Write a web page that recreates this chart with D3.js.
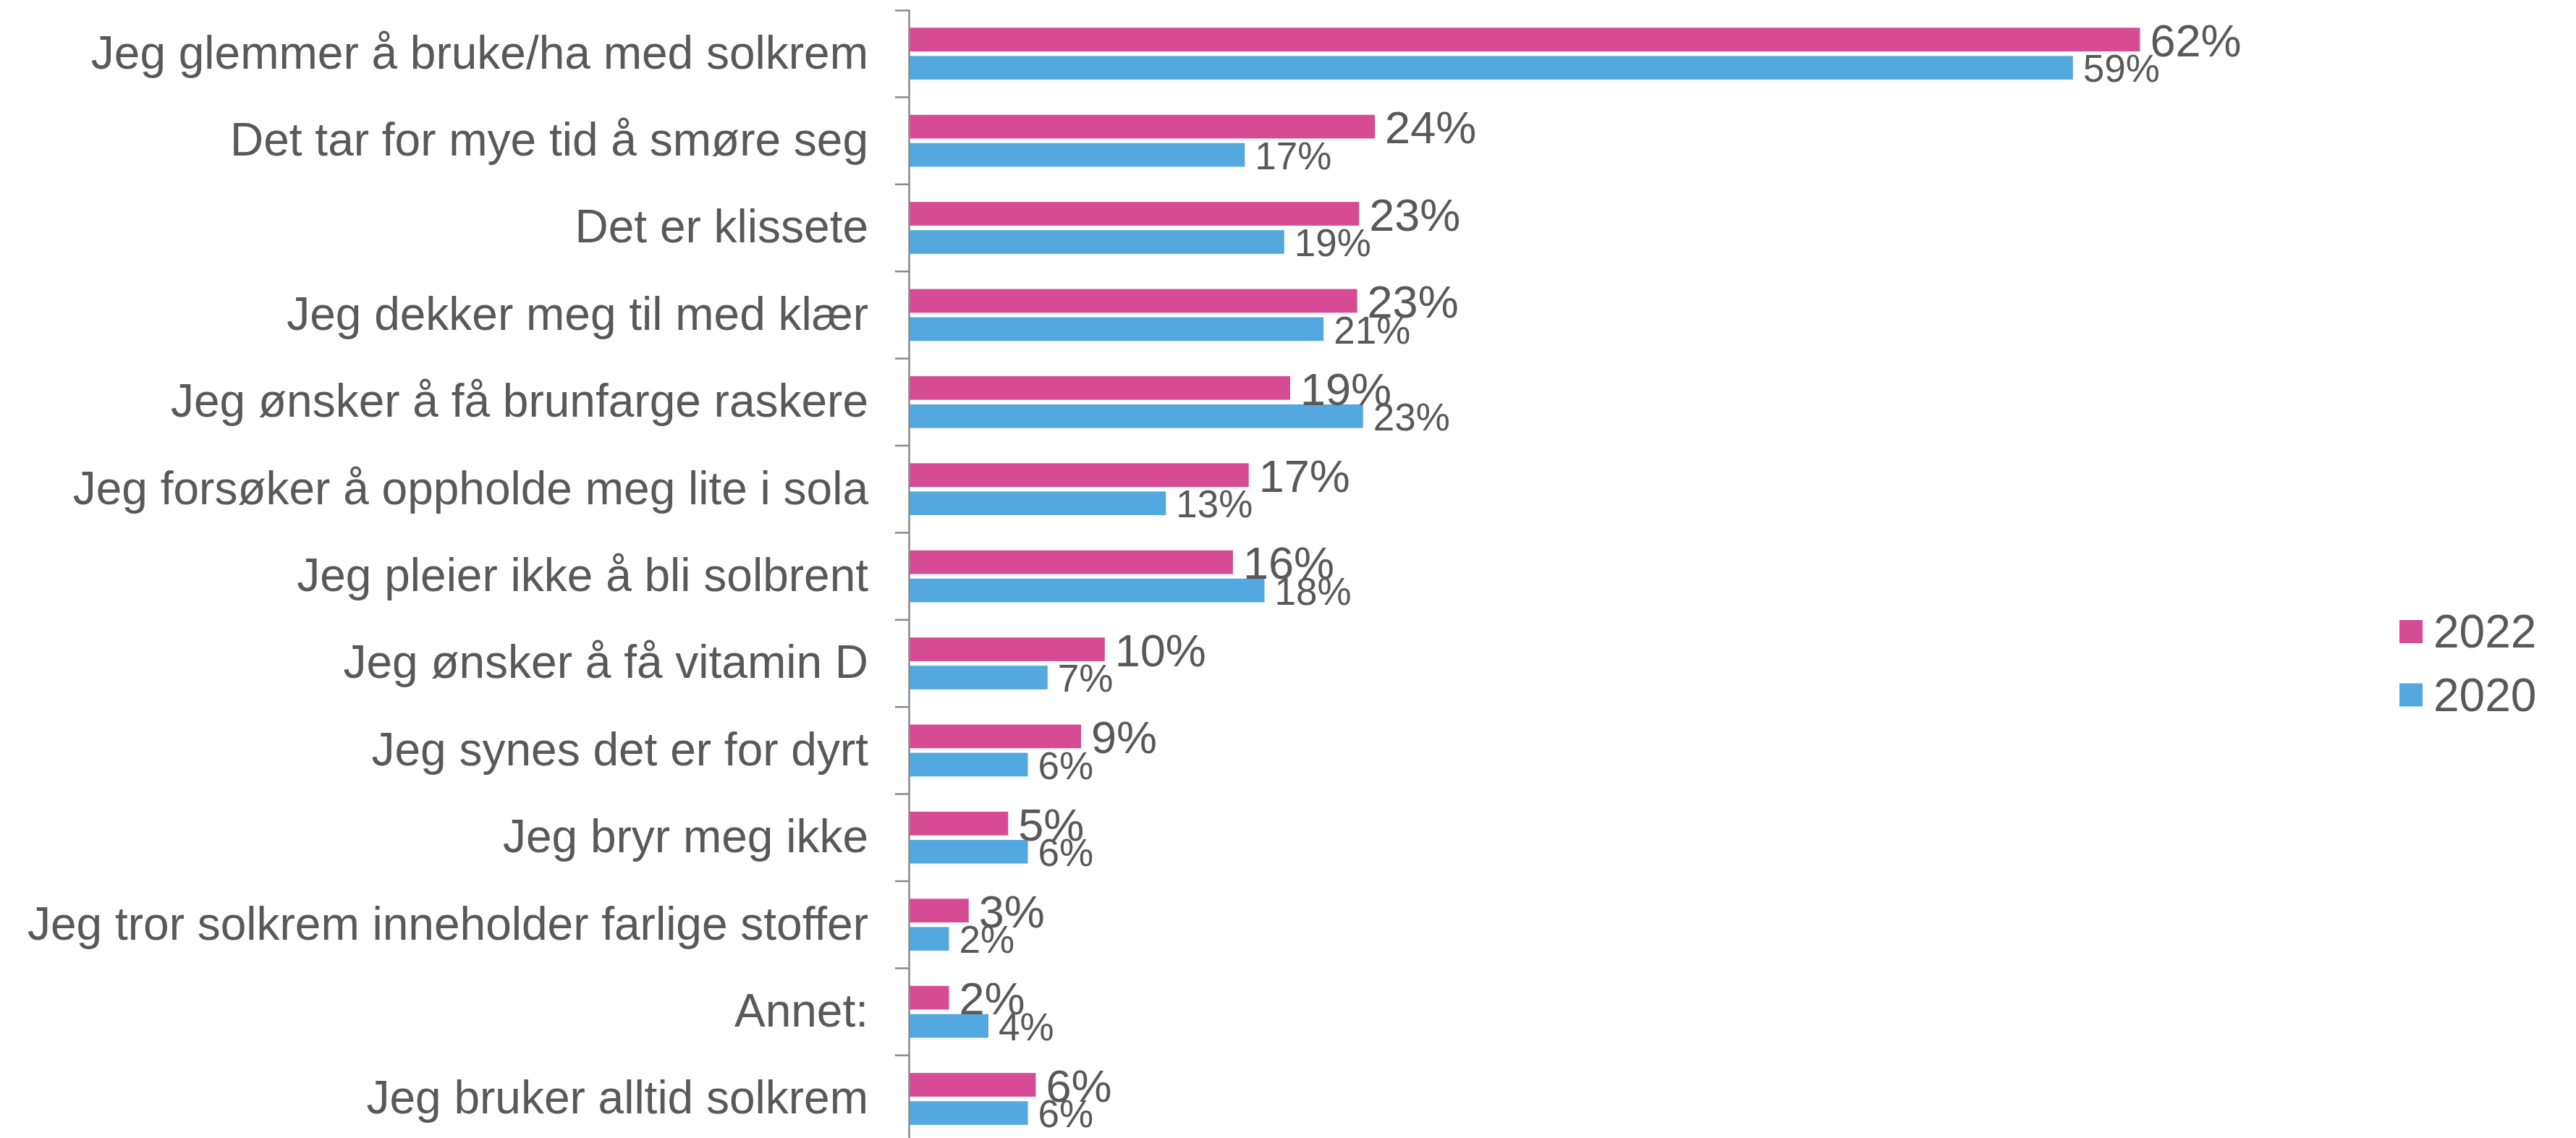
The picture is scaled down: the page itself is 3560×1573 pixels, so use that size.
<!DOCTYPE html>
<html>
<head>
<meta charset="utf-8">
<script src="https://cdn.jsdelivr.net/npm/d3@7"></script>
<style>
  body { margin: 0; background: #fff; }
  text { font-family: "Liberation Sans", Arial, sans-serif; fill: #595959; }
</style>
</head>
<body>
<div id="chart"></div>
<script>
// Grunner til å ikke bruke solkrem, 2022 mot 2020

var categories = [
    "Jeg glemmer å bruke/ha med solkrem",
    "Det tar for mye tid å smøre seg",
    "Det er klissete",
    "Jeg dekker meg til med klær",
    "Jeg ønsker å få brunfarge raskere",
    "Jeg forsøker å oppholde meg lite i sola",
    "Jeg pleier ikke å bli solbrent",
    "Jeg ønsker å få vitamin D",
    "Jeg synes det er for dyrt",
    "Jeg bryr meg ikke",
    "Jeg tror solkrem inneholder farlige stoffer",
    "Annet:",
    "Jeg bruker alltid solkrem"
];
var values2022 = [62.4, 23.6, 22.8, 22.7, 19.3, 17.2, 16.4, 9.9, 8.7, 5.0, 3.0, 2.0, 6.4];
var values2020 = [59, 17, 19, 21, 23, 13, 18, 7, 6, 6, 2, 4, 6];
var seriesNames = ["2022", "2020"];
var seriesColors = ["#D64B93", "#53A9DF"];

var width = 3560, height = 1573;
var axisX = 1256;

var svg = d3.select("#chart").append("svg")
    .attr("width", width)
    .attr("height", height);

var y = d3.scaleBand()
    .domain(categories)
    .range([14, 14 + 13 * 120.4]);

var ySub = d3.scaleBand()
    .domain(seriesNames)
    .range([0, y.step()])
    .paddingInner(0.1615)
    .paddingOuter(0.624);

var x = d3.scaleLinear()
    .domain([0, 80])
    .range([axisX + 1, axisX + 1 + 80 * 27.25]);

var color = d3.scaleOrdinal().domain(seriesNames).range(seriesColors);

var rows = categories.map(function(c, i) {
    return { cat: c, vals: [
        { key: "2022", v: values2022[i] },
        { key: "2020", v: values2020[i] }
    ]};
});

var groups = svg.selectAll(".row")
    .data(rows)
  .enter().append("g")
    .attr("class", "row")
    .attr("transform", function(d) { return "translate(0," + y(d.cat) + ")"; });

groups.selectAll("rect")
    .data(function(d) { return d.vals; })
  .enter().append("rect")
    .attr("x", x(0))
    .attr("y", function(d) { return ySub(d.key); })
    .attr("width", function(d) { return x(d.v) - x(0); })
    .attr("height", ySub.bandwidth())
    .attr("fill", function(d) { return color(d.key); });

groups.selectAll(".lbl")
    .data(function(d) { return d.vals; })
  .enter().append("text")
    .attr("class", "lbl")
    .attr("x", function(d) { return x(d.v) + 14; })
    .attr("y", function(d) { return ySub(d.key) + ySub.bandwidth() / 2; })
    .attr("dy", "0.37em")
    .style("font-size", function(d) { return d.key === "2022" ? "63px" : "53px"; })
    .text(function(d) { return Math.round(d.v) + "%"; });

// category axis
var yAxis = d3.axisLeft(y).tickSize(0).tickSizeOuter(19).tickPadding(56);
var ax = svg.append("g")
    .attr("transform", "translate(" + axisX + ",0)")
    .call(yAxis);
ax.select(".domain").attr("stroke", "#898989").attr("stroke-width", 2.5);
ax.selectAll(".tick text")
    .style("font-size", "64px")
    .attr("fill", "#595959");

// boundary ticks between categories
ax.selectAll(".sep")
    .data(categories.slice(1))
  .enter().append("line")
    .attr("class", "sep")
    .attr("x1", -19).attr("x2", 0)
    .attr("y1", function(d) { return y(d); })
    .attr("y2", function(d) { return y(d); })
    .attr("stroke", "#898989")
    .attr("stroke-width", 2.5);

// legend
var legend = svg.append("g").attr("transform", "translate(3316,873)");
var li = legend.selectAll(".li")
    .data(seriesNames)
  .enter().append("g")
    .attr("transform", function(d, i) { return "translate(0," + (i * 87.5) + ")"; });
li.append("rect")
    .attr("x", 0).attr("y", -16)
    .attr("width", 32).attr("height", 32)
    .attr("fill", function(d) { return color(d); });
li.append("text")
    .attr("x", 47)
    .attr("dy", "0.35em")
    .style("font-size", "64px")
    .text(function(d) { return d; });
</script>
</body>
</html>
